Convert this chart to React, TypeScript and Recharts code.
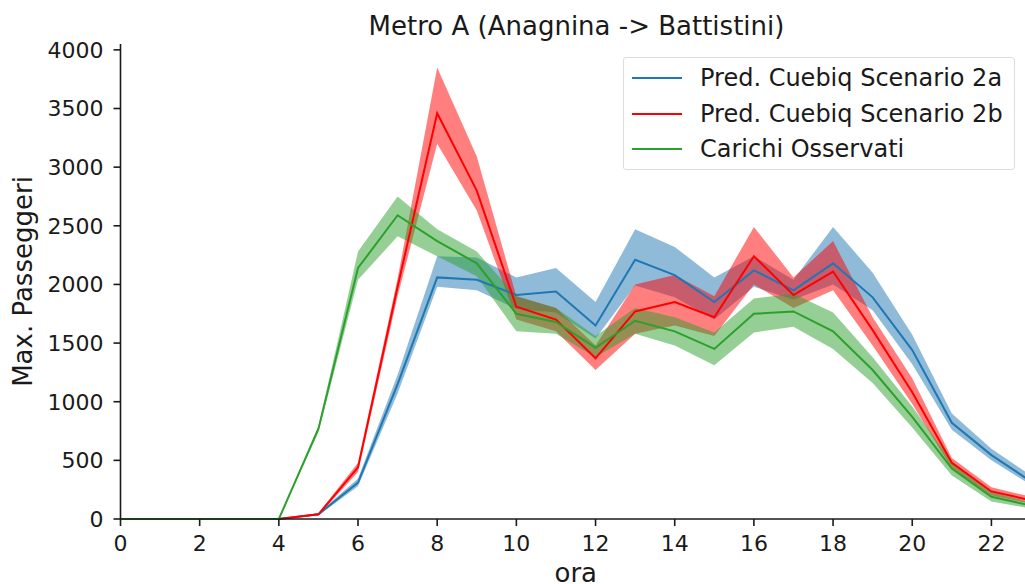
import React from "react";
import { ComposedChart, Area, Line, XAxis, YAxis, Label } from "recharts";

const hours = [0, 1, 2, 3, 4, 5, 6, 7, 8, 9, 10, 11, 12, 13, 14, 15, 16, 17, 18, 19, 20, 21, 22, 23];

const blueMean = [0, 0, 0, 0, 0, 40, 310, 1150, 2060, 2040, 1910, 1940, 1650, 2210, 2080, 1850, 2120, 1950, 2180, 1890, 1440, 820, 545, 320];
const blueLo = [0, 0, 0, 0, 0, 30, 280, 1070, 1980, 1950, 1790, 1760, 1540, 1990, 1890, 1700, 1980, 1870, 2000, 1780, 1320, 760, 500, 290];
const blueHi = [0, 0, 0, 0, 0, 50, 345, 1230, 2240, 2230, 2060, 2140, 1850, 2470, 2320, 2060, 2240, 2040, 2490, 2100, 1570, 900, 600, 370];

const redMean = [0, 0, 0, 0, 0, 40, 440, 1980, 3460, 2800, 1810, 1700, 1370, 1770, 1850, 1720, 2240, 1910, 2110, 1610, 1080, 480, 235, 160];
const redLo = [0, 0, 0, 0, 0, 30, 400, 1900, 3200, 2630, 1700, 1600, 1270, 1580, 1650, 1560, 2000, 1800, 1950, 1480, 980, 430, 200, 130];
const redHi = [0, 0, 0, 0, 0, 50, 480, 2050, 3850, 3090, 1900, 1800, 1480, 2000, 2080, 1900, 2490, 2060, 2370, 1720, 1200, 520, 270, 190];

const greenMean = [0, 0, 0, 0, 0, 770, 2140, 2590, 2370, 2180, 1750, 1680, 1460, 1690, 1600, 1450, 1750, 1770, 1600, 1270, 870, 430, 190, 115];
const greenLo = [0, 0, 0, 0, 0, 740, 2040, 2410, 2240, 2070, 1600, 1580, 1380, 1580, 1480, 1310, 1590, 1640, 1450, 1160, 780, 370, 150, 90];
const greenHi = [0, 0, 0, 0, 0, 790, 2280, 2750, 2470, 2280, 1900, 1800, 1560, 1800, 1720, 1590, 1880, 1920, 1760, 1380, 960, 490, 230, 140];

const xTicks = [0, 2, 4, 6, 8, 10, 12, 14, 16, 18, 20, 22];
const yTicks = [0, 500, 1000, 1500, 2000, 2500, 3000, 3500, 4000];

const series = [
  { name: "Pred. Cuebiq Scenario 2a", key: "blue", color: "#1f77b4" },
  { name: "Pred. Cuebiq Scenario 2b", key: "red", color: "#ff0000" },
  { name: "Carichi Osservati", key: "green", color: "#2ca02c" },
];

const data = hours.map((h, i) => ({
  ora: h,
  blue: blueMean[i],
  blueBand: [blueLo[i], blueHi[i]],
  red: redMean[i],
  redBand: [redLo[i], redHi[i]],
  green: greenMean[i],
  greenBand: [greenLo[i], greenHi[i]],
}));

const FONT = "'DejaVu Sans', sans-serif";
const INK = "#1a1a1a";
const tickStyle = { fontSize: 22, fill: INK, fontFamily: FONT };

export default function App() {
  return (
    <div style={{ position: "relative", width: 1025, height: 584, overflow: "hidden", background: "#fff", fontFamily: FONT }}>
      <style>{"body{margin:0;overflow:hidden}"}</style>
      <div style={{ position: "absolute", left: 0, width: 1153, top: 13, lineHeight: "26px", textAlign: "center", fontSize: 26, color: INK, whiteSpace: "nowrap" }}>
        Metro A (Anagnina -&gt; Battistini)
      </div>
      <ComposedChart width={1040} height={584} data={data} margin={{ top: 44, right: 9, bottom: 0, left: 0 }}>
        <XAxis
          dataKey="ora"
          type="number"
          domain={[0, 23]}
          ticks={xTicks}
          interval={0}
          height={65}
          stroke={INK}
          strokeWidth={1.6}
          tickSize={7}
          tick={tickStyle}
          tickMargin={9}
        >
          <Label value="ora" position="insideBottom" offset={2} style={{ fontSize: 26, fill: INK, fontFamily: FONT }} />
        </XAxis>
        <XAxis xAxisId="top" orientation="top" dataKey="ora" type="number" domain={[0, 23]} height={0} tick={false} tickLine={false} stroke={INK} strokeWidth={1.6} />
        <YAxis
          type="number"
          domain={[0, 4050]}
          ticks={yTicks}
          interval={0}
          width={120.5}
          stroke={INK}
          strokeWidth={1.6}
          tickSize={7}
          tick={tickStyle}
          tickMargin={10}
        >
          <Label value="Max. Passeggeri" angle={-90} position="insideLeft" offset={23} style={{ fontSize: 26, fill: INK, fontFamily: FONT, textAnchor: "middle" }} />
        </YAxis>
        {series.map((s) => [
          <Area
            key={s.key + "Band"}
            type="linear"
            dataKey={s.key + "Band"}
            stroke="none"
            fill={s.color}
            fillOpacity={0.5}
            isAnimationActive={false}
            activeDot={false}
          />,
          <Line
            key={s.key}
            type="linear"
            dataKey={s.key}
            stroke={s.color}
            strokeWidth={2}
            dot={false}
            activeDot={false}
            isAnimationActive={false}
          />,
        ])}
      </ComposedChart>
      <div
        style={{
          position: "absolute",
          left: 623,
          top: 57,
          width: 392,
          height: 113,
          border: "1px solid #ddd",
          borderRadius: 3,
          background: "rgba(255,255,255,0.8)",
          boxSizing: "border-box",
          padding: "2px 0 0 8px",
        }}
      >
        {series.map((s) => (
          <div key={s.key} style={{ display: "flex", alignItems: "center", height: 35.8, fontSize: 24, color: INK, whiteSpace: "nowrap" }}>
            <div style={{ width: 50, height: 2, background: s.color, marginRight: 18, flexShrink: 0 }} />
            <span>{s.name}</span>
          </div>
        ))}
      </div>
    </div>
  );
}
